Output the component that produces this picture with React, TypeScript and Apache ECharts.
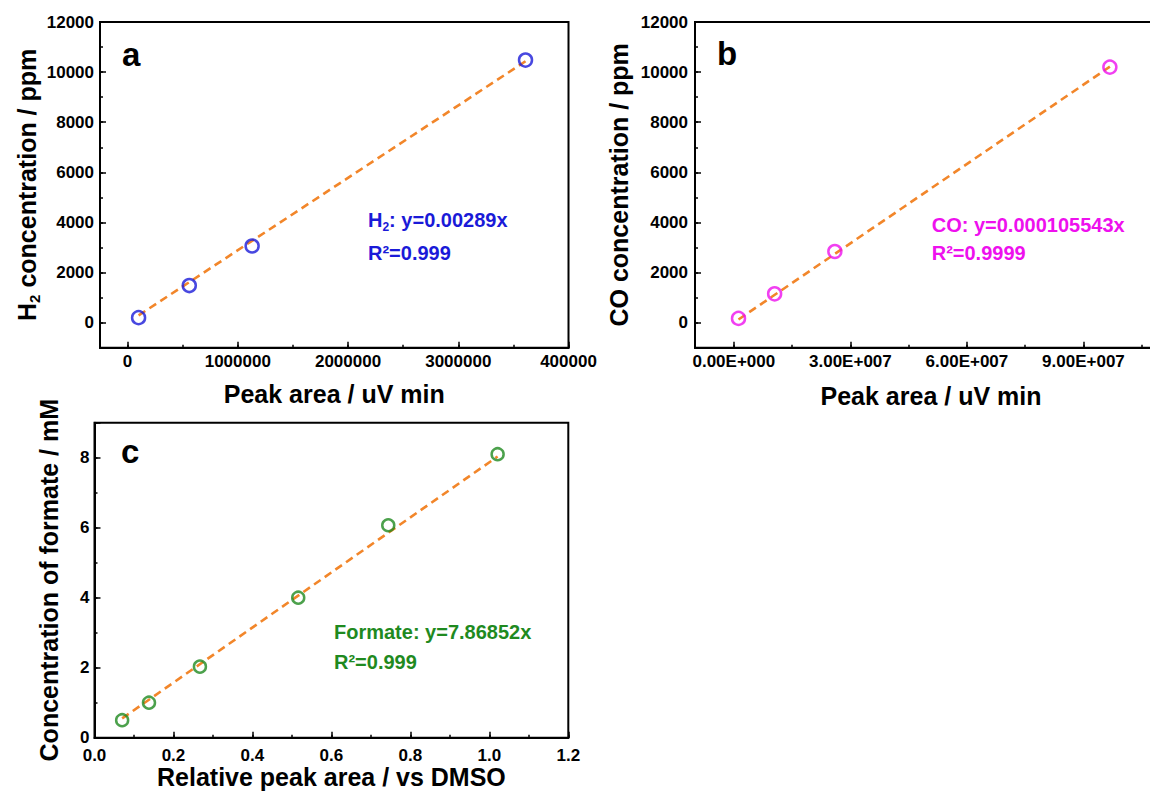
import React, { useEffect, useRef } from 'react';
import * as echarts from 'echarts';

// ---------- data ----------
// Panel a: H2 calibration
const h2Area = [100000, 560000, 1130000, 3610000];
const h2Conc = [200, 1480, 3060, 10480];
const h2Slope = 0.00289;

// Panel b: CO calibration
const coArea = [1200000, 10500000, 26000000, 96800000];
const coConc = [170, 1150, 2840, 10200];
const coSlope = 0.000105543;

// Panel c: formate calibration
const fmRel = [0.07, 0.138, 0.267, 0.516, 0.744, 1.021];
const fmConc = [0.5, 1.0, 2.03, 4.0, 6.07, 8.1];
const fmSlope = 7.86852;

// tick labels
const aXTickValues = [0, 1000000, 2000000, 3000000, 4000000];
const aXTickLabels = ['0', '1000000', '2000000', '3000000', '400000'];
const bXTickValues = [0, 30000000, 60000000, 90000000];
const bXTickLabels = ['0.00E+000', '3.00E+007', '6.00E+007', '9.00E+007'];
const abYTickValues = [0, 2000, 4000, 6000, 8000, 10000, 12000];
const abYTickLabels = ['0', '2000', '4000', '6000', '8000', '10000', '12000'];
const cXTickValues = [0, 0.2, 0.4, 0.6, 0.8, 1.0, 1.2];
const cXTickLabels = ['0.0', '0.2', '0.4', '0.6', '0.8', '1.0', '1.2'];
const cYTickValues = [0, 2, 4, 6, 8];
const cYTickLabels = ['0', '2', '4', '6', '8'];

// ---------- styles ----------
const FONT = '"Liberation Sans", Arial, Helvetica, sans-serif';
const BLUE = '#1a1ad8';
const MAGENTA = '#ee10ee';
const GREEN = '#1f8a1f';
const ORANGE = '#f2862a';

const labelFor = (values: number[], labels: string[]) => (v: number) => {
  const i = values.findIndex((t) => Math.abs(t - v) <= 1e-9 * Math.max(1, Math.abs(t)));
  return i >= 0 ? labels[i] : '';
};

const tickLine = { color: '#000', width: 1.5 };

function majorAxis(
  dim: 'x' | 'y',
  grid: number,
  min: number,
  max: number,
  step: number,
  fmt: (v: number) => string,
  margin: number,
  extra: any = {}
) {
  return {
    type: 'value',
    gridIndex: grid,
    position: dim === 'x' ? 'bottom' : 'left',
    min,
    max,
    minInterval: step,
    maxInterval: step,
    splitNumber: Math.round((max - min) / step),
    axisLine: { show: true, onZero: false, lineStyle: { color: '#000', width: 2 } },
    axisTick: { show: true, inside: true, length: 6, lineStyle: tickLine },
    minorTick: { show: false },
    axisLabel: {
      show: true,
      margin,
      formatter: fmt,
      color: '#000',
      fontSize: 17,
      fontWeight: 'bold',
      fontFamily: FONT,
      showMinLabel: true,
      showMaxLabel: true,
    },
    splitLine: { show: false },
    ...extra,
  };
}

function minorAxis(dim: 'x' | 'y', grid: number, min: number, max: number, step: number) {
  return {
    type: 'value',
    gridIndex: grid,
    position: dim === 'x' ? 'bottom' : 'left',
    min,
    max,
    minInterval: step,
    maxInterval: step,
    splitNumber: Math.round((max - min) / step),
    axisLine: { show: false, onZero: false },
    axisTick: { show: true, inside: true, length: 3, lineStyle: tickLine },
    axisLabel: { show: false },
    splitLine: { show: false },
  };
}

const nameStyle = {
  color: '#000',
  fontSize: 25,
  fontWeight: 'bold',
  fontFamily: FONT,
};

const fitLine = (xs: number[], slope: number, xi: number, yi: number) => ({
  type: 'line',
  xAxisIndex: xi,
  yAxisIndex: yi,
  data: [
    [xs[0], slope * xs[0]],
    [xs[xs.length - 1], slope * xs[xs.length - 1]],
  ],
  symbol: 'none',
  lineStyle: { color: ORANGE, width: 2.6, type: [8, 5] },
  z: 2,
  silent: true,
});

const points = (xs: number[], ys: number[], color: string, size: number, xi: number, yi: number) => ({
  type: 'scatter',
  xAxisIndex: xi,
  yAxisIndex: yi,
  data: xs.map((x, i) => [x, ys[i]]),
  symbol: 'circle',
  symbolSize: size,
  itemStyle: { color: 'rgba(0,0,0,0)', borderColor: color, borderWidth: 2.5 },
  z: 3,
});

const annText = (x: number, y: number, text: string, color: string, rich?: any) => ({
  type: 'text',
  x,
  y,
  style: {
    text,
    fill: color,
    fontSize: 20,
    fontWeight: 'bold',
    fontFamily: FONT,
    align: 'left',
    verticalAlign: 'middle',
    rich,
  },
  z: 10,
});

const panelLabel = (x: number, y: number, text: string) => ({
  type: 'text',
  x,
  y,
  style: {
    text,
    fill: '#000',
    fontSize: 33,
    fontWeight: 'bold',
    fontFamily: FONT,
    align: 'left',
    verticalAlign: 'middle',
  },
  z: 10,
});

const subRich = (color: string, size: number, subSize: number) => ({
  n: { fontSize: size, fontWeight: 'bold', fontFamily: FONT, color, lineHeight: size + 5 },
  s: {
    fontSize: subSize,
    fontWeight: 'bold',
    fontFamily: FONT,
    color,
    lineHeight: subSize,
    verticalAlign: 'bottom',
  },
});

const gridBase = {
  show: true,
  borderColor: '#000',
  borderWidth: 2,
  backgroundColor: 'rgba(0,0,0,0)',
  containLabel: false,
  outerBoundsMode: 'none',
};

const option: any = {
  animation: false,
  backgroundColor: '#fff',
  textStyle: { fontFamily: FONT },
  grid: [
    { ...gridBase, left: 100, top: 22, width: 468.5, height: 325.7 },
    { ...gridBase, left: 695, top: 22, width: 505, height: 325.7 },
    { ...gridBase, left: 94.5, top: 422.7, width: 473.8, height: 315 },
  ],
  xAxis: [
    majorAxis('x', 0, -250000, 4000000, 1000000, labelFor(aXTickValues, aXTickLabels), 5, {
      name: 'Peak area / uV min',
      nameLocation: 'middle',
      nameGap: 34,
      nameTextStyle: nameStyle,
    }),
    minorAxis('x', 0, -250000, 4000000, 500000),
    majorAxis('x', 1, -10000000, 120000000, 30000000, labelFor(bXTickValues, bXTickLabels), 5),
    minorAxis('x', 1, -10000000, 120000000, 15000000),
    majorAxis('x', 2, 0, 1.2, 0.2, labelFor(cXTickValues, cXTickLabels), 9, {
      name: 'Relative peak area / vs DMSO',
      nameLocation: 'middle',
      nameGap: 27,
      nameTextStyle: nameStyle,
    }),
    minorAxis('x', 2, 0, 1.2, 0.1),
  ],
  yAxis: [
    majorAxis('y', 0, -1000, 12000, 2000, labelFor(abYTickValues, abYTickLabels), 6, {
      name: '{n|H}{s|2}{n| concentration / ppm}',
      nameLocation: 'middle',
      nameGap: 58,
      nameTextStyle: { ...nameStyle, rich: subRich('#000', 25, 15) },
    }),
    minorAxis('y', 0, -1000, 12000, 1000),
    majorAxis('y', 1, -1000, 12000, 2000, labelFor(abYTickValues, abYTickLabels), 7, {
      name: 'CO concentration / ppm',
      nameLocation: 'middle',
      nameGap: 64,
      nameTextStyle: nameStyle,
    }),
    minorAxis('y', 1, -1000, 12000, 1000),
    majorAxis('y', 2, 0, 9, 2, labelFor(cYTickValues, cYTickLabels), 5, {
      name: 'Concentration of formate / mM',
      nameLocation: 'middle',
      nameGap: 33,
      nameTextStyle: nameStyle,
    }),
    minorAxis('y', 2, 0, 9, 1),
  ],
  series: [
    fitLine(h2Area, h2Slope, 0, 0),
    points(h2Area, h2Conc, BLUE, 13, 0, 0),
    fitLine(coArea, coSlope, 2, 2),
    points(coArea, coConc, MAGENTA, 13, 2, 2),
    fitLine(fmRel, fmSlope, 4, 4),
    points(fmRel, fmConc, GREEN, 12, 4, 4),
  ],
  graphic: [
    panelLabel(122, 54.6, 'a'),
    panelLabel(717, 53.6, 'b'),
    panelLabel(121, 451.9, 'c'),
    annText(368, 220, '{n|H}{s|2}{n|: y=0.00289x}', BLUE, subRich(BLUE, 20, 12)),
    annText(368, 253.3, 'R²=0.999', BLUE),
    annText(931.7, 225, 'CO: y=0.000105543x', MAGENTA),
    annText(931.7, 252.5, 'R²=0.9999', MAGENTA),
    annText(334, 632, 'Formate: y=7.86852x', GREEN),
    annText(334, 662, 'R²=0.999', GREEN),
    {
      type: 'text',
      x: 931,
      y: 396,
      style: {
        text: 'Peak area / uV min',
        fill: '#000',
        fontSize: 25,
        fontWeight: 'bold',
        fontFamily: FONT,
        align: 'center',
        verticalAlign: 'middle',
      },
      z: 10,
    },
  ],
};

export default function App() {
  const ref = useRef<HTMLDivElement>(null);
  useEffect(() => {
    document.body.style.margin = '0';
    const chart = echarts.init(ref.current as HTMLDivElement, null, { renderer: 'svg' });
    chart.setOption(option);
    return () => {
      chart.dispose();
    };
  }, []);
  return (
    <div
      ref={ref}
      style={{ position: 'fixed', left: 0, top: 0, width: 1150, height: 791, background: '#fff' }}
    />
  );
}
